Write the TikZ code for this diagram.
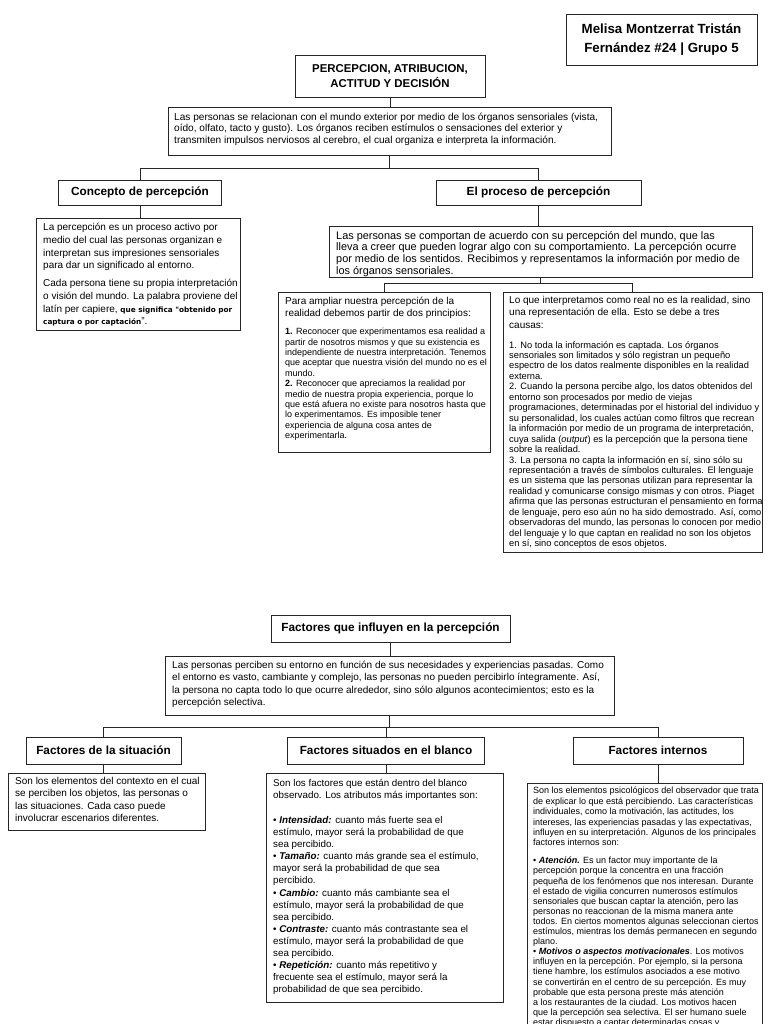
\documentclass[tikz,border=0pt]{standalone}
\usepackage{fontspec}
\setmainfont{Liberation Sans}
\newfontfamily\dvs{DejaVu Sans}
\usetikzlibrary{fit}
\begin{document}
\begin{tikzpicture}[x=1pt,y=-1pt,
  bx/.style={draw=black!85, line width=0.9pt, inner sep=0pt},
  hd/.style={draw=black!85, line width=0.9pt, inner sep=0pt, font=\fontsize{11.8}{13}\selectfont\bfseries},
  tx/.style={anchor=north west, inner sep=0pt, align=left},
  ln/.style={draw=black!85, line width=0.9pt}]
\useasboundingbox[fill=white] (0,0) rectangle (768,1024);
\clip (0,0) rectangle (768,1024);

% ---------- top part ----------
\node[hd, minimum width=191pt, minimum height=51pt, align=center, font=\fontsize{13.3}{19}\selectfont\bfseries] (auth) at (661.5,39.5) {Melisa Montzerrat Tristán\\Fernández \#24 | Grupo 5};

\node[hd, minimum width=190pt, minimum height=42pt, align=center, font=\fontsize{11.4}{15.5}\selectfont\bfseries] (title) at (390,76) {PERCEPCION, ATRIBUCION,\\ACTITUD Y DECISIÓN};

\node[bx, fit={(168,107)(611,155)}] (intro) {};
\node[tx, font=\fontsize{10.1}{11.2}\selectfont] (introT) at (174,113) {Las personas se relacionan con el mundo exterior por medio de los órganos sensoriales (vista,\\oído, olfato, tacto y gusto). Los órganos reciben estímulos o sensaciones del exterior y\\transmiten impulsos nerviosos al cerebro, el cual organiza e interpreta la información.};

\node[hd, minimum width=163pt, minimum height=25pt] (conc) at (140,192.5) {Concepto de percepción};
\node[hd, minimum width=205pt, minimum height=25pt] (proc) at (538.5,192.5) {El proceso de percepción};

\node[bx, fit={(36,218)(240,330)}] (concB) {};
\node[tx, font=\fontsize{10}{12.8}\selectfont] (concT1) at (43,223) {La percepción es un proceso activo por\\medio del cual las personas organizan e\\interpretan sus impresiones sensoriales\\para dar un significado al entorno.};
\node[tx, font=\fontsize{10}{12.8}\selectfont] (concT2) at (43,279) {Cada persona tiene su propia interpretación\\o visión del mundo. La palabra proviene del\\latín per capiere, {\dvs\bfseries\fontsize{7.3}{12.8}\selectfont que significa "obtenido por}\\{\dvs\bfseries\fontsize{7.3}{12.8}\selectfont captura o por captación}".};

\node[bx, fit={(329,226)(752,277)}] (procB) {};
\node[tx, font=\fontsize{10.9}{11.6}\selectfont] (procT) at (336,231) {Las personas se comportan de acuerdo con su percepción del mundo, que las\\lleva a creer que pueden lograr algo con su comportamiento. La percepción ocurre\\por medio de los sentidos. Recibimos y representamos la información por medio de\\los órganos sensoriales.};

\node[bx, fit={(278,292)(490,452)}] (lsub) {};
\node[tx, font=\fontsize{10}{11.5}\selectfont] (lsubH) at (285,297) {Para ampliar nuestra percepción de la\\realidad debemos partir de dos principios:};
\node[tx, font=\fontsize{9}{10.4}\selectfont] (lsubL) at (285,328) {\textbf{1.} Reconocer que experimentamos esa realidad a\\partir de nosotros mismos y que su existencia es\\independiente de nuestra interpretación. Tenemos\\que aceptar que nuestra visión del mundo no es el\\mundo.\\\textbf{2.} Reconocer que apreciamos la realidad por\\medio de nuestra propia experiencia, porque lo\\que está afuera no existe para nosotros hasta que\\lo experimentamos. Es imposible tener\\experiencia de alguna cosa antes de\\experimentarla.};

\node[bx, fit={(503,292)(762,552)}] (rsub) {};
\node[tx, font=\fontsize{10}{12.5}\selectfont] (rsubH) at (509,296) {Lo que interpretamos como real no es la realidad, sino\\una representación de ella. Esto se debe a tres\\causas:};
\node[tx, font=\fontsize{9.3}{10.45}\selectfont] (rsubL) at (509,341) {1. No toda la información es captada. Los órganos\\sensoriales son limitados y sólo registran un pequeño\\espectro de los datos realmente disponibles en la realidad\\externa.\\2. Cuando la persona percibe algo, los datos obtenidos del\\entorno son procesados por medio de viejas\\programaciones, determinadas por el historial del individuo y\\su personalidad, los cuales actúan como filtros que recrean\\la información por medio de un programa de interpretación,\\cuya salida (\textit{output}) es la percepción que la persona tiene\\sobre la realidad.\\3. La persona no capta la información en sí, sino sólo su\\representación a través de símbolos culturales. El lenguaje\\es un sistema que las personas utilizan para representar la\\realidad y comunicarse consigo mismas y con otros. Piaget\\afirma que las personas estructuran el pensamiento en forma\\de lenguaje, pero eso aún no ha sido demostrado. Así, como\\observadoras del mundo, las personas lo conocen por medio\\del lenguaje y lo que captan en realidad no son los objetos\\en sí, sino conceptos de esos objetos.};

% connectors top
\draw[ln] (title.south) -- (title.south |- intro.north);
\draw[ln] (intro.south) -- ++(0,13) coordinate (j1);
\draw[ln] (conc.north) |- (j1) -| (proc.north);
\draw[ln] (conc.south) -- (conc.south |- concB.north);
\draw[ln] (proc.south) -- (proc.south |- procB.north);
\draw[ln] (procB.south) -- ++(0,6) coordinate (j2);
\draw[ln] (lsub.north) |- (j2) -| (rsub.north);

% ---------- bottom part ----------
\node[hd, minimum width=239pt, minimum height=27pt] (fac) at (390.5,628.5) {Factores que influyen en la percepción};
\node[bx, fit={(165,656)(614,715)}] (facB) {};
\node[tx, font=\fontsize{10}{12.3}\selectfont] (facT) at (172,661) {Las personas perciben su entorno en función de sus necesidades y experiencias pasadas. Como\\el entorno es vasto, cambiante y complejo, las personas no pueden percibirlo íntegramente. Así,\\la persona no capta todo lo que ocurre alrededor, sino sólo algunos acontecimientos; esto es la\\percepción selectiva.};

\node[hd, minimum width=155pt, minimum height=27pt] (sit) at (103.5,750.5) {Factores de la situación};
\node[hd, minimum width=197pt, minimum height=27pt] (bla) at (386,750.5) {Factores situados en el blanco};
\node[hd, minimum width=170pt, minimum height=27pt] (int) at (658,750.5) {Factores internos};

\node[bx, fit={(8,773)(205,830)}] (sitB) {};
\node[tx, font=\fontsize{10}{12.5}\selectfont] (sitT) at (15,777) {Son los elementos del contexto en el cual\\se perciben los objetos, las personas o\\las situaciones. Cada caso puede\\involucrar escenarios diferentes.};

\node[bx, fit={(266,773)(503,1002)}] (blaB) {};
\node[tx, font=\fontsize{9.8}{12}\selectfont] (blaH) at (273,779) {Son los factores que están dentro del blanco\\observado. Los atributos más importantes son:};
\node[tx, font=\fontsize{9.8}{12.1}\selectfont] (blaL) at (273,816) {• \textbf{\textit{Intensidad:}} cuanto más fuerte sea el\\estímulo, mayor será la probabilidad de que\\sea percibido.\\• \textbf{\textit{Tamaño:}} cuanto más grande sea el estímulo,\\mayor será la probabilidad de que sea\\percibido.\\• \textbf{\textit{Cambio:}} cuanto más cambiante sea el\\estímulo, mayor será la probabilidad de que\\sea percibido.\\• \textbf{\textit{Contraste:}} cuanto más contrastante sea el\\estímulo, mayor será la probabilidad de que\\sea percibido.\\• \textbf{\textit{Repetición:}} cuanto más repetitivo y\\frecuente sea el estímulo, mayor será la\\probabilidad de que sea percibido.};

\node[bx, fit={(527,783)(762,1040)}] (intB) {};
\node[tx, font=\fontsize{9}{10.4}\selectfont] (intH) at (533,787) {Son los elementos psicológicos del observador que trata\\de explicar lo que está percibiendo. Las características\\individuales, como la motivación, las actitudes, los\\intereses, las experiencias pasadas y las expectativas,\\influyen en su interpretación. Algunos de los principales\\factores internos son:};
\node[tx, font=\fontsize{9}{10.1}\selectfont] (intL) at (533,857) {• \textbf{\textit{Atención.}} Es un factor muy importante de la\\percepción porque la concentra en una fracción\\pequeña de los fenómenos que nos interesan. Durante\\el estado de vigilia concurren numerosos estímulos\\sensoriales que buscan captar la atención, pero las\\personas no reaccionan de la misma manera ante\\todos. En ciertos momentos algunas seleccionan ciertos\\estímulos, mientras los demás permanecen en segundo\\plano.\\• \textbf{\textit{Motivos o aspectos motivacionales}}. Los motivos\\influyen en la percepción. Por ejemplo, si la persona\\tiene hambre, los estímulos asociados a ese motivo\\se convertirán en el centro de su percepción. Es muy\\probable que esta persona preste más atención\\a los restaurantes de la ciudad. Los motivos hacen\\que la percepción sea selectiva. El ser humano suele\\estar dispuesto a captar determinadas cosas y};

% connectors bottom
\draw[ln] (fac.south) -- (fac.south |- facB.north);
\draw[ln] (facB.south) -- ++(0,12) coordinate (j3);
\draw[ln] (sit.north) |- (j3) -| (int.north);
\draw[ln] (bla.north) -- (bla.north |- j3);
\draw[ln] (sit.south) -- (sit.south |- sitB.north);
\draw[ln] (bla.south) -- (bla.south |- blaB.north);
\draw[ln] (int.south) -- (int.south |- intB.north);
\end{tikzpicture}
\end{document}
